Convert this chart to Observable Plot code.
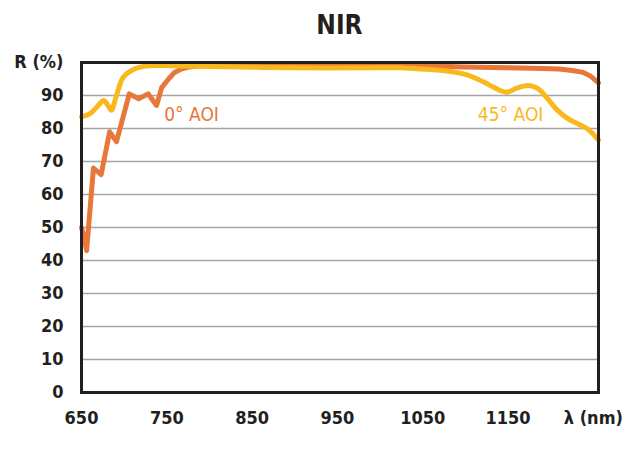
<!DOCTYPE html>
<html>
<head>
<meta charset="utf-8">
<script src="https://cdn.jsdelivr.net/npm/d3@7"></script>
<script src="https://cdn.jsdelivr.net/npm/@observablehq/plot@0.6"></script>
<style>
  html, body { margin: 0; padding: 0; background: #fff; }
  body { width: 630px; height: 458px; overflow: hidden; font-family: "Liberation Sans Narrow", "DejaVu Sans Condensed", "Roboto Condensed", sans-serif; }
  #title { height: 46px; line-height: 50px; padding-left: 81px; padding-right: 32px; text-align: center; font-weight: bold; font-size: 26px; color: #231f20; font-stretch: condensed; }
  svg { display: block; }
</style>
</head>
<body>
<div id="title">NIR</div>
<div id="chart"></div>
<script>
// 0° AOI series
const lam0 = [650, 653, 656, 664, 673, 683, 691, 706, 717, 728, 738, 744, 752, 759, 767, 775, 790, 814, 850, 950, 1050, 1100, 1150, 1190, 1210, 1225, 1238, 1246, 1256];
const r0   = [50, 47, 43, 68, 66, 79, 76, 90.5, 89, 90.5, 87, 92.4, 95, 97, 98, 98.6, 99, 99.2, 99.2, 99.1, 99, 98.6, 98.4, 98.2, 98, 97.6, 97, 96, 93.8];
// 45° AOI series
const lam45 = [650, 660, 668, 676, 681, 685, 691, 699, 712, 728, 760, 800, 900, 1000, 1024, 1050, 1083, 1100, 1114, 1128, 1141, 1149, 1160, 1173, 1182, 1188, 1198, 1208, 1220, 1231, 1245, 1256];
const r45   = [83.5, 84.5, 86.5, 88.5, 87, 85.5, 90, 95.5, 98, 99, 99, 98.8, 98.4, 98.4, 98.4, 98, 97.3, 96.4, 95, 93.2, 91.5, 91, 92.2, 93, 92.5, 91.5, 88.5, 85.5, 83, 81.5, 79.5, 76.5];
// axis ticks and labels
const xTicks = [650, 750, 850, 950, 1050, 1150, 1250];
const xTickLabels = ["650", "750", "850", "950", "1050", "1150", "λ (nm)"];
const yTicks = [0, 10, 20, 30, 40, 50, 60, 70, 80, 90, 100];
const yTickLabels = ["0", "10", "20", "30", "40", "50", "60", "70", "80", "90", "R (%)"];
const gridValues = [10, 20, 30, 40, 50, 60, 70, 80, 90];
// series labels
const seriesNames = ["0° AOI", "45° AOI"];
const labelLam = [779, 1153];
const labelR = [84, 84];

const orange = "#e8773a";
const yellow = "#f9b91d";
const ink = "#231f20";

const d0 = lam0.map((x, i) => ({x, y: r0[i]}));
const d45 = lam45.map((x, i) => ({x, y: r45[i]}));
const labels = seriesNames.map((t, i) => ({t, x: labelLam[i], y: labelR[i], c: i === 0 ? orange : yellow}));

const plot = Plot.plot({
  width: 630,
  height: 412,
  marginLeft: 81,
  marginRight: 32,
  marginTop: 16,
  marginBottom: 66,
  style: {fontFamily: "'Liberation Sans Narrow', 'DejaVu Sans Condensed', sans-serif", background: "#fff"},
  x: {domain: [650, 1256]},
  y: {domain: [0, 100]},
  marks: [
    Plot.ruleY(gridValues, {stroke: "#a3a5a8", strokeWidth: 1.5}),
    Plot.line(d0, {x: "x", y: "y", stroke: orange, strokeWidth: 5, curve: "linear", strokeLinejoin: "round", strokeLinecap: "round"}),
    Plot.line(d45, {x: "x", y: "y", stroke: yellow, strokeWidth: 5, curve: "catmull-rom", strokeLinejoin: "round"}),
    Plot.text(labels, {x: "x", y: "y", text: "t", fill: "c", fontSize: 19, fontWeight: "500"}),
    Plot.frame({stroke: ink, strokeWidth: 3}),
    Plot.axisX({ticks: xTicks, tickFormat: (d, i) => xTickLabels[xTicks.indexOf(d)], tickSize: 0, tickPadding: 19, fontSize: 18, fontWeight: "bold", fill: ink, label: null}),
    Plot.axisY({ticks: yTicks, tickFormat: (d) => yTickLabels[yTicks.indexOf(d)], tickSize: 0, tickPadding: 18, fontSize: 18, fontWeight: "bold", fill: ink, label: null})
  ]
});
document.getElementById("chart").appendChild(plot);
</script>
</body>
</html>
